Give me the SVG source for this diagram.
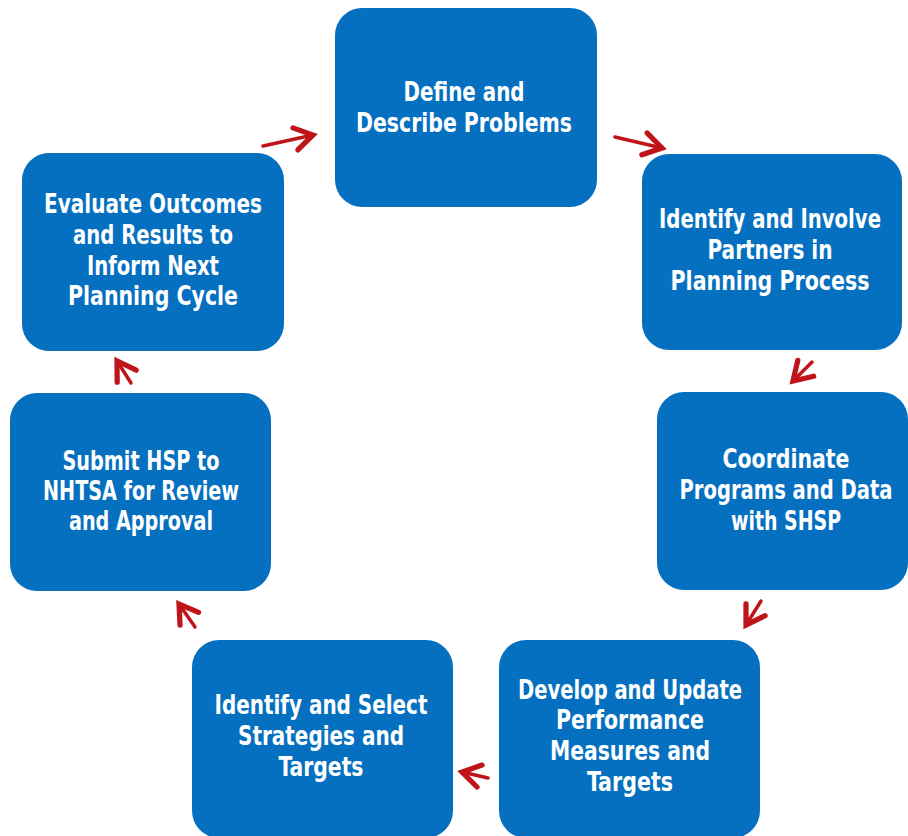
<svg xmlns="http://www.w3.org/2000/svg" width="908" height="836" viewBox="0 0 908 836">
<defs>
<style>
.box{fill:#0670c0}
.t{fill:#fff;font-family:"DejaVu Sans Condensed","DejaVu Sans",sans-serif;font-weight:bold;font-size:27px;text-anchor:middle}
.c{fill:none;stroke:#c0141b;stroke-width:3.5;stroke-linecap:round}
</style>
<marker id="ah" markerUnits="userSpaceOnUse" markerWidth="30" markerHeight="30" refX="14" refY="10" viewBox="0 0 20 20" orient="auto">
<path d="M2,2.5 L14,10 L2,17.5" fill="none" stroke="#c0141b" stroke-width="3.5" stroke-linecap="round" stroke-linejoin="miter"/>
</marker>
</defs>
<rect width="908" height="836" fill="#fff"/>
<g id="n1"><rect class="box" x="335" y="8" width="262" height="199" rx="27"/>
<text class="t" x="464" y="101" textLength="121" lengthAdjust="spacingAndGlyphs">Define and</text>
<text class="t" x="464" y="132" textLength="216" lengthAdjust="spacingAndGlyphs">Describe Problems</text></g>
<g id="n2"><rect class="box" x="642" y="154" width="260" height="196" rx="27"/>
<text class="t" x="770" y="228" textLength="222" lengthAdjust="spacingAndGlyphs">Identify and Involve</text>
<text class="t" x="770" y="259" textLength="125" lengthAdjust="spacingAndGlyphs">Partners in</text>
<text class="t" x="770" y="290" textLength="199" lengthAdjust="spacingAndGlyphs">Planning Process</text></g>
<g id="n3"><rect class="box" x="657" y="392" width="251" height="198" rx="27"/>
<text class="t" x="786" y="468" textLength="127" lengthAdjust="spacingAndGlyphs">Coordinate</text>
<text class="t" x="786" y="499" textLength="213" lengthAdjust="spacingAndGlyphs">Programs and Data</text>
<text class="t" x="786" y="530" textLength="110" lengthAdjust="spacingAndGlyphs">with SHSP</text></g>
<g id="n4"><rect class="box" x="499" y="640" width="261" height="198" rx="27"/>
<text class="t" x="630" y="699" textLength="224" lengthAdjust="spacingAndGlyphs">Develop and Update</text>
<text class="t" x="630" y="729" textLength="148" lengthAdjust="spacingAndGlyphs">Performance</text>
<text class="t" x="630" y="760" textLength="160" lengthAdjust="spacingAndGlyphs">Measures and</text>
<text class="t" x="630" y="791" textLength="86" lengthAdjust="spacingAndGlyphs">Targets</text></g>
<g id="n5"><rect class="box" x="192" y="640" width="261" height="198" rx="27"/>
<text class="t" x="321" y="714" textLength="213" lengthAdjust="spacingAndGlyphs">Identify and Select</text>
<text class="t" x="321" y="745" textLength="166" lengthAdjust="spacingAndGlyphs">Strategies and</text>
<text class="t" x="321" y="776" textLength="85" lengthAdjust="spacingAndGlyphs">Targets</text></g>
<g id="n6"><rect class="box" x="10" y="393" width="261" height="198" rx="27"/>
<text class="t" x="141" y="470" textLength="157" lengthAdjust="spacingAndGlyphs">Submit HSP to</text>
<text class="t" x="141" y="500" textLength="196" lengthAdjust="spacingAndGlyphs">NHTSA for Review</text>
<text class="t" x="141" y="530" textLength="144" lengthAdjust="spacingAndGlyphs">and Approval</text></g>
<g id="n7"><rect class="box" x="22" y="153" width="262" height="198" rx="27"/>
<text class="t" x="153" y="213" textLength="218" lengthAdjust="spacingAndGlyphs">Evaluate Outcomes</text>
<text class="t" x="153" y="244" textLength="160" lengthAdjust="spacingAndGlyphs">and Results to</text>
<text class="t" x="153" y="275" textLength="132" lengthAdjust="spacingAndGlyphs">Inform Next</text>
<text class="t" x="153" y="305" textLength="170" lengthAdjust="spacingAndGlyphs">Planning Cycle</text></g>
<g id="connectors">
<line class="c" x1="263" y1="146" x2="313" y2="135" marker-end="url(#ah)"/>
<line class="c" x1="615" y1="137" x2="662" y2="148" marker-end="url(#ah)"/>
<line class="c" x1="812" y1="362" x2="793" y2="381" marker-end="url(#ah)"/>
<line class="c" x1="761" y1="601" x2="746" y2="625" marker-end="url(#ah)"/>
<line class="c" x1="488" y1="778" x2="462" y2="772" marker-end="url(#ah)"/>
<line class="c" x1="195" y1="627" x2="179" y2="604" marker-end="url(#ah)"/>
<line class="c" x1="131" y1="383" x2="117" y2="361" marker-end="url(#ah)"/>
</g>
</svg>
